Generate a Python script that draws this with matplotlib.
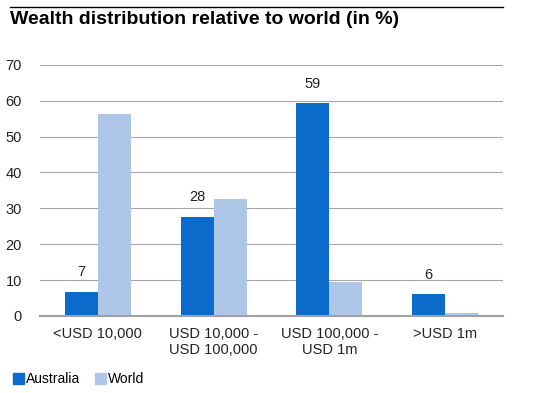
import matplotlib.pyplot as plt
import numpy as np
from matplotlib.lines import Line2D
import matplotlib.patches as mpatches

plt.rcParams['font.family'] = ['Liberation Sans', 'DejaVu Sans']

# ── DATA ─────────────────────────────────────────────────────────────────────
categories = ["<USD 10,000", "USD 10,000 -\nUSD 100,000", "USD 100,000 -\nUSD 1m", ">USD 1m"]
australia = [6.7, 27.6, 59.3, 6.1]
world = [56.4, 32.7, 9.5, 0.8]
aus_labels = ["7", "28", "59", "6"]

AUS_COLOR = "#0A6BCB"
WORLD_COLOR = "#AEC7E8"

# ── CHART ────────────────────────────────────────────────────────────────────
fig = plt.figure(figsize=(5.38, 3.93), dpi=100)
ax = fig.add_axes([0.074, 0.196, 0.861, 0.639])

x = np.arange(len(categories))
width = 0.285
ax.bar(x - width / 2, australia, width, color=AUS_COLOR, zorder=2)
ax.bar(x + width / 2, world, width, color=WORLD_COLOR, zorder=2)

for xi, val, lab in zip(x, australia, aus_labels):
    ax.annotate(lab, (xi - width / 2, val), xytext=(0, 9), textcoords="offset points",
                ha="center", va="bottom", fontsize=10.5, color="#222222")

ax.set_xlim(-0.5, len(categories) - 0.5)
ax.set_ylim(0, 70)
ax.set_yticks(range(0, 71, 10))
ax.yaxis.grid(True, color="#A6A6A6", linewidth=0.8, zorder=0)
ax.set_axisbelow(True)
for side in ["top", "right", "left"]:
    ax.spines[side].set_visible(False)
ax.spines["bottom"].set_color("#A0A0A0")
ax.spines["bottom"].set_linewidth(1.5)
ax.tick_params(length=0, labelsize=10.5, colors="#222222")
ax.tick_params(axis="y", pad=13)
ax.tick_params(axis="x", pad=8)
ax.set_xticks(x)
ax.set_xticklabels(categories)

# title and top rule
fig.add_artist(Line2D([10 / 538, 503 / 538], [1 - 7 / 393] * 2, color="black", linewidth=1))
fig.text(10 / 538, 1 - 20 / 393, "Wealth distribution relative to world (in %)",
         fontsize=14, fontweight="bold", ha="left", va="center")

handles = [mpatches.Patch(color=AUS_COLOR, label="Australia"),
           mpatches.Patch(color=WORLD_COLOR, label="World")]
fig.legend(handles=handles, loc="lower left", bbox_to_anchor=(0.0, -0.015), ncol=2, frameon=False,
           fontsize=10, handlelength=0.8, handleheight=0.8, handletextpad=0.2, columnspacing=1.0)

plt.savefig("out.png", dpi=100)
